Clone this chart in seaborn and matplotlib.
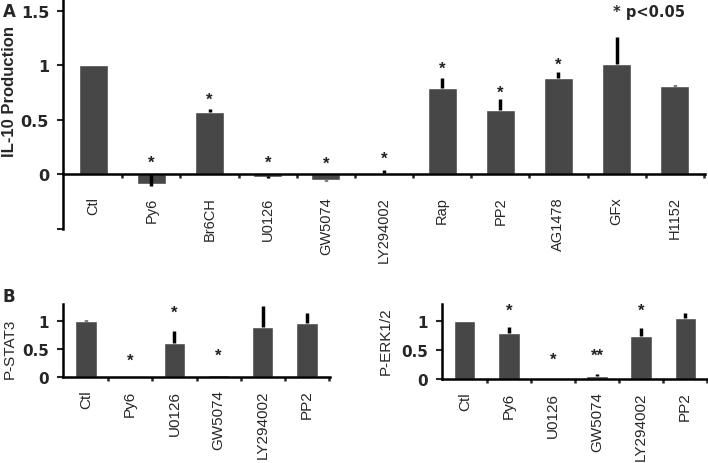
import numpy as np
import pandas as pd
import matplotlib
matplotlib.use('Agg')
import matplotlib.pyplot as plt
import seaborn as sns

# Panel A: IL-10 production
a_labels = ['Ctl', 'Py6', 'Br6CH', 'U0126', 'GW5074', 'LY294002',
            'Rap', 'PP2', 'AG1478', 'GFx', 'H1152']
a_vals = [1.00, -0.09, 0.57, -0.03, -0.05, 0.01, 0.79, 0.59, 0.88, 1.01, 0.81]
a_err_up = [0.005, 0.09, 0.03, 0.01, 0.0, 0.03, 0.09, 0.10, 0.06, 0.25, 0.01]
a_err_dn = [0.0, 0.02, 0.0, 0.005, 0.015, 0.0, 0.0, 0.0, 0.0, 0.0, 0.0]
a_star = ['', '*', '*', '*', '*', '*', '*', '*', '*', '', '']
a_star_y = [np.nan, 0.11, 0.69, 0.11, 0.10, 0.15, 0.97, 0.75, 1.01, np.nan, np.nan]

# Panel B: phospho-STAT3 and phospho-ERK1/2
b_labels = ['Ctl', 'Py6', 'U0126', 'GW5074', 'LY294002', 'PP2']
stat3_vals = [1.00, 0.0, 0.61, 0.03, 0.89, 0.97]
stat3_err = [0.01, 0.0, 0.21, 0.01, 0.37, 0.17]
stat3_star = ['', '*', '*', '*', '', '']
stat3_star_y = [np.nan, 0.30, 1.16, 0.39, np.nan, np.nan]
erk_vals = [1.00, 0.79, 0.0, 0.05, 0.74, 1.05]
erk_err = [0.01, 0.12, 0.0, 0.03, 0.14, 0.10]
erk_star = ['', '*', '*', '**', '*', '']
erk_star_y = [np.nan, 1.20, 0.34, 0.41, 1.20, np.nan]

bar_color = '#474747'
wide_bold = ['DejaVu Sans']  # tick numbers in the figure are a wide bold face

sns.set_style('ticks')
plt.rcParams['font.family'] = ['Liberation Sans', 'DejaVu Sans']


def draw_panel(ax, labels, vals, err_dn, err_up, stars, star_y, bar_w):
    df = pd.DataFrame({'grupo': labels, 'valor': vals})
    sns.barplot(data=df, x='grupo', y='valor', color=bar_color, width=bar_w,
                saturation=1, ax=ax)
    x = np.arange(len(labels))
    ax.errorbar(x, vals, yerr=[err_dn, err_up], fmt='none', ecolor='black',
                elinewidth=2.5, capsize=0)
    for xi, s, sy in zip(x, stars, star_y):
        if s:
            ax.text(xi, sy, s, ha='center', va='center', fontsize=12,
                    fontweight='bold', color='#222222')
    ax.set_xlabel('')
    sns.despine(ax=ax)
    for sp in ['left', 'bottom']:
        ax.spines[sp].set_linewidth(1.8)
        ax.spines[sp].set_color('black')
    ax.spines['bottom'].set_position(('data', 0))
    ax.set_xlim(-0.52, len(labels) - 0.48)
    ax.set_xticks(x)
    ax.set_xticks(np.arange(len(labels)) + 0.5, minor=True)
    ax.tick_params(axis='x', which='major', length=0)
    ax.tick_params(axis='x', which='minor', length=3, width=1.8, direction='out')
    ax.tick_params(axis='y', length=4, width=1.5, direction='out', pad=6)


fig = plt.figure(figsize=(7.08, 4.64), dpi=100)

# Panel A
axA = fig.add_axes([63 / 708, 1 - 229.5 / 464, 642 / 708, 228.5 / 464])
draw_panel(axA, a_labels, a_vals, a_err_dn, a_err_up, a_star, a_star_y, 0.5)
axA.set_ylim(-0.5, 1.6)
axA.set_yticks([-0.5, 0, 0.5, 1, 1.5])
axA.set_yticklabels(['', '0', '0.5', '1', '1.5'], fontsize=11.5,
                    fontweight='bold', family=wide_bold)
axA.set_xticklabels(a_labels, rotation=90, fontsize=10.5, va='top')
axA.tick_params(axis='x', which='major', pad=16)
axA.set_ylabel('IL-10 Production', fontsize=12, fontweight='bold')
axA.yaxis.set_label_coords(-0.072, 0.605)

# Panel B left
axB1 = fig.add_axes([63 / 708, 1 - 378 / 464, 267 / 708, 73 / 464])
draw_panel(axB1, b_labels, stat3_vals, [0] * 6, stat3_err, stat3_star, stat3_star_y, 0.48)
axB1.set_ylim(0, 1.3)
axB1.set_yticks([0, 0.5, 1])
axB1.set_yticklabels(['0', '0.5', '1'], fontsize=11, fontweight='bold', family=wide_bold)
axB1.set_xticklabels(b_labels, rotation=90, fontsize=11, va='top')
axB1.tick_params(axis='x', which='major', pad=9)
axB1.set_ylabel('P-STAT3', fontsize=11)
axB1.yaxis.set_label_coords(-0.172, 0.40)

# Panel B right
axB2 = fig.add_axes([442 / 708, 1 - 380 / 464, 266 / 708, 75 / 464])
draw_panel(axB2, b_labels, erk_vals, [0] * 6, erk_err, erk_star, erk_star_y, 0.48)
axB2.set_ylim(0, 1.3)
axB2.set_yticks([0, 0.5, 1])
axB2.set_yticklabels(['0', '0.5', '1'], fontsize=11, fontweight='bold', family=wide_bold)
axB2.set_xticklabels(b_labels, rotation=90, fontsize=11, va='top')
axB2.tick_params(axis='x', which='major', pad=9)
axB2.set_ylabel('P-ERK1/2', fontsize=11)
axB2.yaxis.set_label_coords(-0.184, 0.52)

fig.text(3 / 708, 1 - 12 / 464, 'A', fontsize=12, fontweight='bold', va='center',
         family=wide_bold)
fig.text(3 / 708, 1 - 297 / 464, 'B', fontsize=12, fontweight='bold', va='center',
         family=wide_bold)
fig.text(613 / 708, 1 - 13 / 464, '* p<0.05', fontsize=10.5, fontweight='bold',
         va='center', family=wide_bold)

fig.savefig('out.png', dpi=100)
